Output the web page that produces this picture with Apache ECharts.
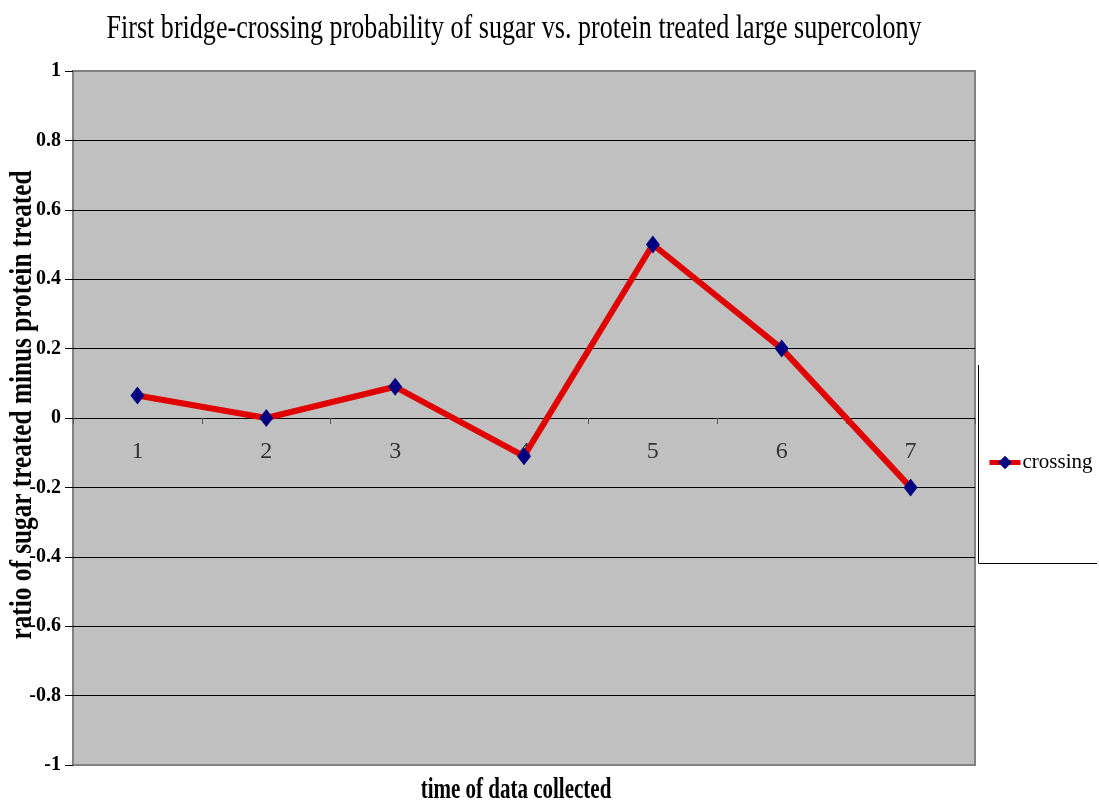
<!DOCTYPE html>
<html>
<head>
<meta charset="utf-8">
<script src="https://cdn.jsdelivr.net/npm/echarts@6/dist/echarts.min.js"></script>
<style>
  html, body { margin: 0; padding: 0; background: #fff; }
  #chart { width: 1099px; height: 807px; }
</style>
</head>
<body>
<div id="chart"></div>
<script>
// Time points at which the bridge crossings were recorded
const categories = ['1', '2', '3', '4', '5', '6', '7'];
// Ratio of sugar-treated minus protein-treated first crossings
const crossing = [0.065, 0, 0.09, -0.11, 0.5, 0.2, -0.2];
// Value axis range and step
const yMin = -1;
const yMax = 1;
const yStep = 0.2;

const seriesName = 'crossing';
const chartTitle = 'First bridge-crossing probability of sugar vs. protein treated large supercolony';
const xTitle = 'time of data collected';
const yTitle = 'ratio of sugar treated minus protein treated';

const serif = '"Liberation Serif", "Times New Roman", serif';

const W = 1099, H = 807;
const gridBox = { left: 73, right: 124, top: 71, bottom: 42 };
// category labels sit just under the zero line rather than at the plot's bottom edge
const plotHeight = H - gridBox.top - gridBox.bottom;
const zeroFromBottom = plotHeight * (0 - yMin) / (yMax - yMin);
const catLabelMargin = 22 - zeroFromBottom;

const chart = echarts.init(document.getElementById('chart'));

chart.setOption({
  animation: false,
  backgroundColor: '#ffffff',
  grid: Object.assign({}, gridBox, {
    containLabel: false,
    outerBoundsMode: 'none',
    show: true,
    backgroundColor: '#c0c0c0',
    borderColor: '#808080',
    borderWidth: 2
  }),
  legend: {
    data: [seriesName],
    left: 987,
    top: 452,
    padding: 0,
    itemWidth: 31,
    itemHeight: 17,
    itemGap: 0,
    lineStyle: { width: 5 },
    textStyle: { fontFamily: serif, fontSize: 21, color: '#000', padding: [0, 0, 0, -3] }
  },
  xAxis: {
    type: 'category',
    data: categories,
    boundaryGap: true,
    axisLine: { show: true, onZero: true, lineStyle: { color: '#000', width: 1 } },
    axisTick: { show: true, length: 6, lineStyle: { color: '#555' } },
    axisLabel: { fontFamily: serif, fontSize: 24, color: '#333', margin: catLabelMargin },
    splitLine: { show: false }
  },
  yAxis: {
    type: 'value',
    min: yMin,
    max: yMax,
    interval: yStep,
    axisLine: { show: false },
    axisTick: { show: true, length: 8, lineStyle: { color: '#000' } },
    axisLabel: { fontFamily: serif, fontSize: 20, fontWeight: 'bold', color: '#000', margin: 12 },
    splitLine: { show: true, showMinLine: false, showMaxLine: false, lineStyle: { color: '#000', width: 1 } }
  },
  series: [{
    name: seriesName,
    type: 'line',
    data: crossing,
    symbol: 'diamond',
    symbolSize: [14, 18],
    itemStyle: { color: '#000080' },
    lineStyle: { color: '#e00000', width: 6 },
    z: 3
  }],
  graphic: [
    {
      // chart title, set in a condensed serif
      type: 'text',
      x: 514, y: 29,
      scaleX: 0.767,
      style: {
        text: chartTitle,
        font: 'normal 34px ' + serif,
        fill: '#000',
        textAlign: 'center',
        textVerticalAlign: 'middle'
      }
    },
    {
      // x axis title
      type: 'text',
      x: 516, y: 790,
      scaleX: 0.7,
      style: {
        text: xTitle,
        font: 'bold 30px ' + serif,
        fill: '#000',
        textAlign: 'center',
        textVerticalAlign: 'middle'
      }
    },
    {
      // y axis title, reading bottom to top
      type: 'text',
      x: 23, y: 405,
      rotation: Math.PI / 2,
      scaleX: 0.79,
      style: {
        text: yTitle,
        font: 'bold 32px ' + serif,
        fill: '#000',
        textAlign: 'center',
        textVerticalAlign: 'middle'
      }
    },
    {
      // legend frame edges
      type: 'polyline',
      shape: { points: [[978.5, 365], [978.5, 563.5], [1097, 563.5]] },
      style: { stroke: '#000', lineWidth: 1, fill: null }
    }
  ]
});
</script>
</body>
</html>
